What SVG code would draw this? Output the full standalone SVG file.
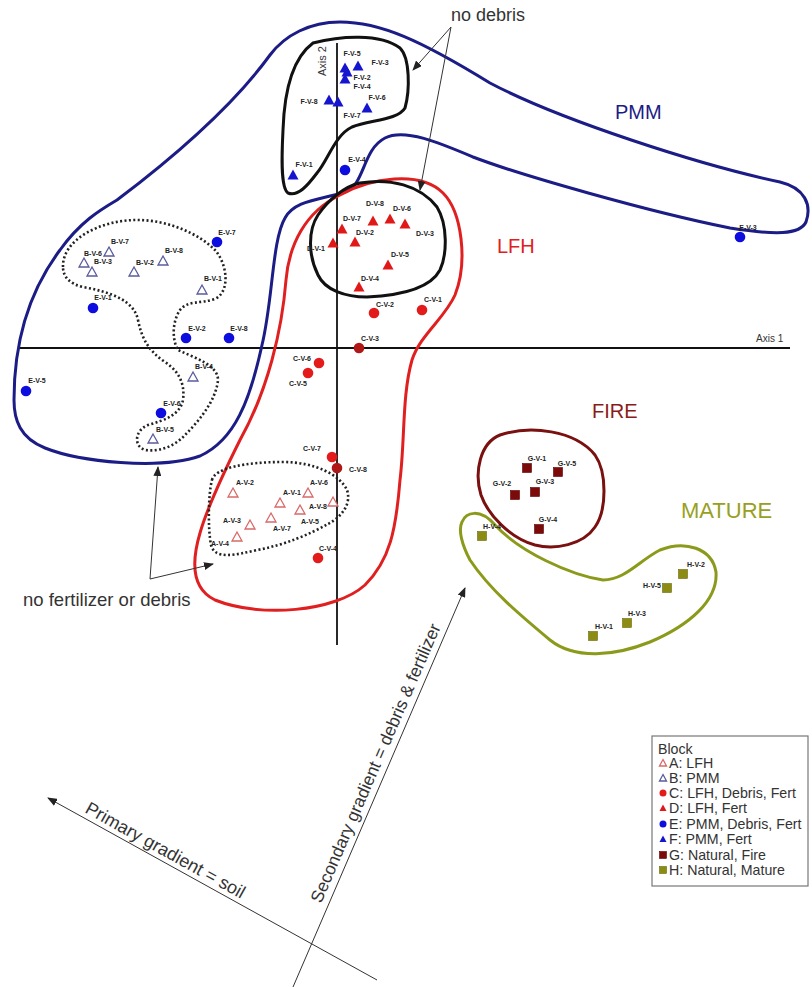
<svg xmlns="http://www.w3.org/2000/svg" width="812" height="987" viewBox="0 0 812 987">
<style>
.lbl{font-family:"Liberation Sans",Arial,sans-serif;font-size:7px;font-weight:bold;fill:#222;text-anchor:middle}
.ann{font-family:"Liberation Sans",Arial,sans-serif;font-size:18px;fill:#333}
.big{font-family:"Liberation Sans",Arial,sans-serif;font-size:20px}
.leg{font-family:"Liberation Sans",Arial,sans-serif;font-size:14.2px;fill:#333}
.hull{fill:none;stroke-width:3}
.dot{fill:none;stroke:#222;stroke-width:2.6;stroke-dasharray:2 2.4}
.axis{stroke:#111;stroke-width:1.8;fill:none}
.cn{stroke:#333;stroke-width:1;fill:none}
.a{fill:#fff;stroke:#d86a6a;stroke-width:1.3}
.b{fill:#fff;stroke:#5b5b9e;stroke-width:1.3}
.c{fill:#e41b1b}
.c2{fill:#b01818}
.d{fill:#e01818}
.e{fill:#0d0de0}
.f{fill:#1515d0}
.g{fill:#7d0a0a;stroke:#5a0000;stroke-width:0.6}
.h{fill:#8c8c14;stroke:#6a6a08;stroke-width:0.6}
</style>
<defs>
<path id="tri" d="M0,-5.5 L5.5,4.5 L-5.5,4.5 Z"/>
<path id="otri" d="M0,-5 L5,4 L-5,4 Z"/>
<circle id="cir" r="5.3"/>
<rect id="sq" x="-4.5" y="-4.5" width="9" height="9"/>
<path id="ltri" d="M0,-3.5 L3.5,3 L-3.5,3 Z"/>
<circle id="lcir" r="3.5"/>
<rect id="lsq" x="-3.5" y="-3.5" width="7" height="7"/>
<marker id="arr" markerWidth="10" markerHeight="8" refX="9" refY="4" orient="auto" markerUnits="userSpaceOnUse">
<path d="M0,0 L10,4 L0,8 Z" fill="#222"/>
</marker>
</defs>
<rect width="812" height="987" fill="#fff"/>

<g id="axes">
<line class="axis" x1="18" y1="348" x2="790" y2="348"/>
<line class="axis" x1="337" y1="43" x2="337" y2="645"/>
<text class="leg" x="756" y="342" style="font-size:10px">Axis 1</text>
<text class="leg" transform="translate(326,76) rotate(-90)" style="font-size:11px">Axis 2</text>
</g>

<g id="PMM">
<path class="hull" stroke="#1c1c86" d="M14,400 C14,340 30,290 60,250 C80,222 100,210 117,200 C170,160 230,110 270,55 C285,35 310,22 340,22 C380,22 420,40 490,83 C560,120 700,165 780,182 C805,188 812,205 806,222 C800,235 775,235 730,228 C650,212 520,175 473,157 C440,143 405,128 385,138 C362,150 365,185 345,192 C320,200 295,200 285,218 C272,240 273,300 262,345 C250,400 235,440 200,456 C160,470 80,462 45,448 C20,438 14,420 14,400 Z"/>
<text class="big" x="615" y="119" fill="#1c1c86">PMM</text>
</g>

<g id="LFH">
<path class="hull" stroke="#e02020" d="M340,195 C370,178 420,170 443,193 C462,212 468,262 455,295 C445,318 420,335 412,360 C402,395 405,440 400,480 C396,530 390,560 365,585 C335,612 260,618 215,600 C190,588 192,560 200,533 C208,505 225,470 240,440 C268,390 282,330 286,280 C289,245 305,212 340,195 Z"/>
<text class="big" x="497" y="253" fill="#e02020">LFH</text>
</g>

<g id="F-hull">
<path class="hull" stroke="#111" stroke-width="2.5" d="M313,43 C340,36 380,33 400,48 C410,58 410,90 405,108 C398,120 370,120 352,127 C335,135 328,160 317,173 C308,185 298,197 288,193 C280,188 282,150 283,130 C284,100 290,60 313,43 Z"/>
</g>

<g id="D-hull">
<path class="hull" stroke="#111" stroke-width="2.5" d="M360,183 C390,178 420,185 437,207 C448,225 447,255 440,270 C432,285 410,295 367,297 C345,297 325,290 318,275 C308,255 308,230 318,215 C328,200 345,186 360,183 Z"/>
</g>

<g id="B-hull">
<path class="dot" d="M63,267 C62,240 100,220 137,220 C170,220 200,235 215,250 C228,265 230,292 215,299 C200,304 188,300 180,310 C172,322 172,340 178,350 C195,358 218,365 218,380 C216,400 200,420 185,435 C175,446 160,452 145,450 C133,446 135,430 148,425 C165,420 180,415 183,400 C185,385 180,372 165,362 C150,352 142,340 138,320 C134,300 110,292 83,287 C70,284 63,277 63,267 Z"/>
</g>

<g id="A-hull">
<path class="dot" d="M212,480 C215,468 245,462 283,462 C315,462 340,475 347,490 C352,505 340,518 328,524 C310,534 285,545 257,550 C235,555 215,560 211,545 C208,530 208,495 212,480 Z"/>
</g>

<g id="FIRE">
<path class="hull" stroke="#7a1010" d="M500,435 C530,425 575,430 595,455 C607,472 607,510 595,527 C583,545 555,550 535,545 C510,538 488,515 481,495 C474,472 480,443 500,435 Z"/>
<text class="big" x="592" y="418" fill="#8b1a1a">FIRE</text>
</g>

<g id="MATURE">
<path class="hull" stroke="#8b9a1a" d="M462,522 C466,512 480,508 495,525 C520,552 570,575 603,580 C625,580 640,560 660,550 C685,540 712,548 716,572 C718,600 690,625 650,642 C615,656 575,660 550,640 C520,615 490,590 470,560 C462,545 458,530 462,522 Z"/>
<text class="big" x="681" y="518" fill="#98a020" style="font-size:22px">MATURE</text>
</g>

<g id="connectors">
<line class="cn" x1="451" y1="27" x2="413" y2="70" marker-end="url(#arr)"/>
<line class="cn" x1="451" y1="27" x2="420" y2="190" marker-end="url(#arr)"/>
<line class="cn" x1="150" y1="579" x2="158" y2="467" marker-end="url(#arr)"/>
<line class="cn" x1="150" y1="579" x2="213" y2="564" marker-end="url(#arr)"/>
<line class="cn" x1="377" y1="980" x2="48" y2="798" marker-end="url(#arr)"/>
<line class="cn" x1="293" y1="987" x2="465" y2="588" marker-end="url(#arr)"/>
</g>

<g id="annotations">
<text class="ann" x="451" y="21">no debris</text>
<text class="ann" x="23" y="606" style="font-size:18.5px">no fertilizer or debris</text>
<text class="ann" transform="translate(84,812) rotate(29)">Primary gradient = soil</text>
<text class="ann" transform="translate(321,904) rotate(-66.6)" style="font-size:17.5px">Secondary gradient = debris &amp; fertilizer</text>
</g>

<g id="block-F">
<use href="#tri" class="f" x="345" y="68"/><use href="#tri" class="f" x="347" y="72"/>
<use href="#tri" class="f" x="358" y="66"/><use href="#tri" class="f" x="345" y="79"/>
<use href="#tri" class="f" x="329" y="100"/><use href="#tri" class="f" x="338" y="102"/>
<use href="#tri" class="f" x="367" y="108"/><use href="#tri" class="f" x="293" y="175"/>
<text class="lbl" x="352" y="56">F-V-5</text><text class="lbl" x="380" y="65">F-V-3</text>
<text class="lbl" x="362" y="80">F-V-2</text><text class="lbl" x="362" y="89">F-V-4</text>
<text class="lbl" x="309" y="104">F-V-8</text><text class="lbl" x="377" y="100">F-V-6</text>
<text class="lbl" x="352" y="118">F-V-7</text><text class="lbl" x="304" y="167">F-V-1</text>
</g>

<g id="block-D">
<use href="#tri" class="d" x="373" y="221"/><use href="#tri" class="d" x="390" y="219"/>
<use href="#tri" class="d" x="405" y="224"/><use href="#tri" class="d" x="342" y="229"/>
<use href="#tri" class="d" x="355" y="242"/><use href="#tri" class="d" x="333" y="243"/>
<use href="#tri" class="d" x="388" y="265"/><use href="#tri" class="d" x="359" y="287"/>
<text class="lbl" x="375" y="206">D-V-8</text><text class="lbl" x="402" y="211">D-V-6</text>
<text class="lbl" x="425" y="236">D-V-3</text><text class="lbl" x="352" y="221">D-V-7</text>
<text class="lbl" x="365" y="235">D-V-2</text><text class="lbl" x="316" y="251">D-V-1</text>
<text class="lbl" x="400" y="257">D-V-5</text><text class="lbl" x="370" y="281">D-V-4</text>
</g>

<g id="block-C">
<use href="#cir" class="c" x="374" y="313"/><use href="#cir" class="c" x="422" y="310"/>
<use href="#cir" class="c2" x="359" y="348"/><use href="#cir" class="c" x="319" y="363"/>
<use href="#cir" class="c" x="308" y="373"/><use href="#cir" class="c" x="332" y="457"/>
<use href="#cir" class="c2" x="337" y="468"/><use href="#cir" class="c" x="318" y="558"/>
<text class="lbl" x="385" y="307">C-V-2</text><text class="lbl" x="433" y="302">C-V-1</text>
<text class="lbl" x="370" y="341">C-V-3</text><text class="lbl" x="302" y="361">C-V-6</text>
<text class="lbl" x="298" y="386">C-V-5</text><text class="lbl" x="312" y="451">C-V-7</text>
<text class="lbl" x="358" y="472">C-V-8</text><text class="lbl" x="328" y="551">C-V-4</text>
</g>

<g id="block-A">
<use href="#otri" class="a" x="233" y="493"/><use href="#otri" class="a" x="280" y="503"/>
<use href="#otri" class="a" x="308" y="493"/><use href="#otri" class="a" x="333" y="502"/>
<use href="#otri" class="a" x="300" y="510"/><use href="#otri" class="a" x="271" y="518"/>
<use href="#otri" class="a" x="250" y="525"/><use href="#otri" class="a" x="237" y="537"/>
<text class="lbl" x="245" y="485">A-V-2</text><text class="lbl" x="292" y="495">A-V-1</text>
<text class="lbl" x="319" y="485">A-V-6</text><text class="lbl" x="318" y="509">A-V-8</text>
<text class="lbl" x="310" y="524">A-V-5</text><text class="lbl" x="282" y="531">A-V-7</text>
<text class="lbl" x="232" y="523">A-V-3</text><text class="lbl" x="220" y="546">A-V-4</text>
</g>

<g id="block-B">
<use href="#otri" class="b" x="109" y="252"/><use href="#otri" class="b" x="84" y="263"/>
<use href="#otri" class="b" x="92" y="272"/><use href="#otri" class="b" x="134" y="272"/>
<use href="#otri" class="b" x="163" y="261"/><use href="#otri" class="b" x="202" y="290"/>
<use href="#otri" class="b" x="193" y="377"/><use href="#otri" class="b" x="153" y="439"/>
<text class="lbl" x="120" y="244">B-V-7</text><text class="lbl" x="93" y="256">B-V-6</text>
<text class="lbl" x="103" y="264">B-V-3</text><text class="lbl" x="145" y="265">B-V-2</text>
<text class="lbl" x="174" y="253">B-V-8</text><text class="lbl" x="213" y="281">B-V-1</text>
<text class="lbl" x="204" y="369">B-V-4</text><text class="lbl" x="165" y="432">B-V-5</text>
</g>

<g id="block-E">
<use href="#cir" class="e" x="217" y="242"/><use href="#cir" class="e" x="93" y="308"/>
<use href="#cir" class="e" x="186" y="338"/><use href="#cir" class="e" x="229" y="338"/>
<use href="#cir" class="e" x="26" y="391"/><use href="#cir" class="e" x="161" y="413"/>
<use href="#cir" class="e" x="740" y="237"/><use href="#cir" class="e" x="345" y="170"/>
<text class="lbl" x="227" y="235">E-V-7</text><text class="lbl" x="103" y="300">E-V-1</text>
<text class="lbl" x="197" y="331">E-V-2</text><text class="lbl" x="239" y="331">E-V-8</text>
<text class="lbl" x="37" y="383">E-V-5</text><text class="lbl" x="172" y="406">E-V-6</text>
<text class="lbl" x="748" y="230">E-V-3</text><text class="lbl" x="357" y="162">E-V-4</text>
</g>

<g id="block-G">
<use href="#sq" class="g" x="527" y="468"/><use href="#sq" class="g" x="558" y="472"/>
<use href="#sq" class="g" x="515" y="495"/><use href="#sq" class="g" x="535" y="492"/>
<use href="#sq" class="g" x="539" y="529"/>
<text class="lbl" x="537" y="461">G-V-1</text><text class="lbl" x="567" y="466">G-V-5</text>
<text class="lbl" x="502" y="486">G-V-2</text><text class="lbl" x="545" y="484">G-V-3</text>
<text class="lbl" x="548" y="522">G-V-4</text>
</g>

<g id="block-H">
<use href="#sq" class="h" x="482" y="536"/><use href="#sq" class="h" x="683" y="574"/>
<use href="#sq" class="h" x="667" y="588"/><use href="#sq" class="h" x="627" y="623"/>
<use href="#sq" class="h" x="593" y="636"/>
<text class="lbl" x="492" y="529">H-V-4</text><text class="lbl" x="696" y="567">H-V-2</text>
<text class="lbl" x="652" y="588">H-V-5</text><text class="lbl" x="637" y="616">H-V-3</text>
<text class="lbl" x="604" y="629">H-V-1</text>
</g>

<g id="legend">
<rect x="652" y="736" width="156" height="150" fill="#fff" stroke="#777" stroke-width="1.2"/>
<text class="leg" x="658" y="754">Block</text>
<use href="#ltri" class="a" x="663" y="763"/><text class="leg" x="669" y="768">A: LFH</text>
<use href="#ltri" class="b" x="663" y="778"/><text class="leg" x="669" y="783">B: PMM</text>
<use href="#lcir" class="c" x="663" y="793"/><text class="leg" x="669" y="798">C: LFH, Debris, Fert</text>
<use href="#ltri" class="d" x="663" y="808"/><text class="leg" x="669" y="813">D: LFH, Fert</text>
<use href="#lcir" class="e" x="663" y="824"/><text class="leg" x="669" y="829">E: PMM, Debris, Fert</text>
<use href="#ltri" class="f" x="663" y="839"/><text class="leg" x="669" y="844">F: PMM, Fert</text>
<use href="#lsq" class="g" x="663" y="855"/><text class="leg" x="669" y="860">G: Natural, Fire</text>
<use href="#lsq" class="h" x="663" y="870"/><text class="leg" x="669" y="875">H: Natural, Mature</text>
</g>
</svg>
